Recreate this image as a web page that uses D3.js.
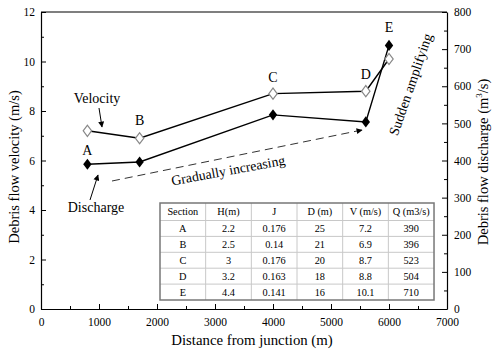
<!DOCTYPE html>
<html><head><meta charset="utf-8">
<script src="https://cdn.jsdelivr.net/npm/d3@7"></script>
<style>body{margin:0;background:#fff}svg{display:block}</style>
</head><body><svg id="c" width="500" height="356"></svg>
<script>
const sections = ["A","B","C","D","E"];
const distance = [800,1700,4000,5600,6000];
const velocity = [7.2,6.9,8.7,8.8,10.1];
const discharge = [390,396,523,504,710];
const depthH = ["2.2","2.5","3","3.2","4.4"];
const slopeJ = ["0.176","0.14","0.176","0.163","0.141"];
const widthD = ["25","21","20","18","16"];
const velText = ["7.2","6.9","8.7","8.8","10.1"];
const qText = ["390","396","523","504","710"];
const tableHeader = ["Section","H(m)","J","D (m)","V (m/s)","Q (m3/s)"];

const FONT = "Liberation Serif";
const svg = d3.select("#c").attr("font-family",FONT);
const L=41,R=447,T=12,B=309;
const x = d3.scaleLinear().domain([0,7000]).range([L,R]);
const yV = d3.scaleLinear().domain([0,12]).range([B,T]);
const yQ = d3.scaleLinear().domain([0,800]).range([B,T]);

svg.append("line").attr("x1",L).attr("x2",R).attr("y1",T).attr("y2",T).attr("stroke","#000").attr("stroke-width",1.2);

function axisDraw(g, axis){ g.call(axis); g.attr("font-family",FONT); g.select(".domain").attr("stroke","#000").attr("stroke-width",1.2); g.selectAll("text").attr("font-size",11.5).attr("fill","#000").attr("font-family",FONT); }
const gx = svg.append("g").attr("transform",`translate(0,${B})`);
gx.call(d3.axisBottom(x).tickValues(d3.range(500,7000,1000)).tickSize(-3).tickFormat(""));
gx.select(".domain").remove();
const gx2 = svg.append("g").attr("transform",`translate(0,${B})`);
axisDraw(gx2, d3.axisBottom(x).tickValues(d3.range(0,7001,1000)).tickSize(-5).tickSizeOuter(0).tickPadding(9).tickFormat(d3.format("d")));

const gl = svg.append("g").attr("transform",`translate(${L},0)`);
gl.call(d3.axisLeft(yV).tickValues(d3.range(1,12,2)).tickSize(-3).tickFormat("")); gl.select(".domain").remove();
const gl2 = svg.append("g").attr("transform",`translate(${L},0)`);
axisDraw(gl2, d3.axisLeft(yV).tickValues(d3.range(0,13,2)).tickSize(-5).tickSizeOuter(0).tickPadding(6));

const gr = svg.append("g").attr("transform",`translate(${R},0)`);
gr.call(d3.axisRight(yQ).tickValues(d3.range(50,800,100)).tickSize(-3).tickFormat("")); gr.select(".domain").remove();
const gr2 = svg.append("g").attr("transform",`translate(${R},0)`);
axisDraw(gr2, d3.axisRight(yQ).tickValues(d3.range(0,801,100)).tickSize(-5).tickSizeOuter(0).tickPadding(7));
svg.selectAll(".tick line").attr("stroke","#000");

const ann = svg.append("g").attr("font-family",FONT).attr("fill","#000");
ann.append("text").attr("x",252).attr("y",345).attr("text-anchor","middle").attr("font-size",14.8).text("Distance from junction (m)");
ann.append("text").attr("transform","translate(19,167) rotate(-90)").attr("text-anchor","middle").attr("font-size",14.5).text("Debris flow velocity (m/s)");
const rt = ann.append("text").attr("transform","translate(488,162) rotate(-90)").attr("text-anchor","middle").attr("font-size",14.5);
rt.append("tspan").text("Debris flow discharge (m");
rt.append("tspan").attr("font-size",9).attr("dy",-6).text("3");
rt.append("tspan").attr("dy",6).text("/s)");

const idx = d3.range(sections.length);
const lineV = d3.line().x(i=>x(distance[i])).y(i=>yV(velocity[i]));
const lineQ = d3.line().x(i=>x(distance[i])).y(i=>yQ(discharge[i]));
svg.append("path").attr("d",lineQ(idx)).attr("fill","none").attr("stroke","#000").attr("stroke-width",1.4);
svg.append("path").attr("d",lineV(idx)).attr("fill","none").attr("stroke","#000").attr("stroke-width",1.4);
const diamond = d3.symbol().type(d3.symbolDiamond).size(36);
svg.selectAll(".mq").data(idx).join("path").attr("d",diamond).attr("transform",i=>`translate(${x(distance[i])},${yQ(discharge[i])}) scale(1.3,1)`).attr("fill","#000");
svg.selectAll(".mv").data(idx).join("path").attr("d",diamond).attr("transform",i=>`translate(${x(distance[i])},${yV(velocity[i])}) scale(1.3,1)`).attr("fill","#fff").attr("stroke","#888").attr("stroke-width",1);

const letterOff = [[0,-9,"q"],[0,-13,"v"],[0,-12,"v"],[0,-12,"v"],[0,-13,"q"]];
sections.forEach((s,i)=>{
  const o=letterOff[i];
  const yy = o[2]==="q"? yQ(discharge[i]) : yV(velocity[i]);
  ann.append("text").attr("x",x(distance[i])+o[0]).attr("y",yy+o[1]).attr("text-anchor","middle").attr("font-size",14).text(s);
});

svg.append("defs").append("marker").attr("id","ah").attr("viewBox","0 0 10 10").attr("refX",9).attr("refY",5)
  .attr("markerWidth",7).attr("markerHeight",6).attr("orient","auto").attr("markerUnits","userSpaceOnUse")
  .append("path").attr("d","M0,0 L10,5 L0,10 Z").attr("fill","#000");

ann.append("text").attr("x",97).attr("y",103).attr("text-anchor","middle").attr("font-size",14).text("Velocity");
svg.append("line").attr("x1",99).attr("y1",108).attr("x2",102).attr("y2",127).attr("stroke","#000").attr("marker-end","url(#ah)");
ann.append("text").attr("x",96).attr("y",212).attr("text-anchor","middle").attr("font-size",14).text("Discharge");
svg.append("line").attr("x1",90).attr("y1",200).attr("x2",98).attr("y2",175).attr("stroke","#000").attr("marker-end","url(#ah)");

svg.append("line").attr("x1",112).attr("y1",181).attr("x2",362).attr("y2",130).attr("stroke","#333").attr("stroke-dasharray","8,5").attr("marker-end","url(#ah)");
ann.append("text").attr("transform","translate(229,175) rotate(-10.5)").attr("text-anchor","middle").attr("font-size",13.8).text("Gradually increasing");
ann.append("text").attr("transform","translate(415,86) rotate(-71)").attr("text-anchor","middle").attr("font-size",14).text("Sudden amplifying");

const tx=160, ty=203, colW=45.67, hH=17.5, rH=15.9;
const tg = svg.append("g").attr("font-family",FONT);
const rows = sections.map((s,i)=>[s,depthH[i],slopeJ[i],widthD[i],velText[i],qText[i]]);
const tw = colW*6, th = hH+rH*rows.length;
tg.append("rect").attr("x",tx).attr("y",ty).attr("width",tw).attr("height",th).attr("fill","#fff");
for(let c=1;c<6;c++) tg.append("line").attr("x1",tx+c*colW).attr("x2",tx+c*colW).attr("y1",ty).attr("y2",ty+th).attr("stroke","#c8c8c8").attr("stroke-width",1);
for(let r=0;r<rows.length;r++) tg.append("line").attr("x1",tx).attr("x2",tx+tw).attr("y1",ty+hH+r*rH).attr("y2",ty+hH+r*rH).attr("stroke","#c8c8c8").attr("stroke-width",1);
tg.append("rect").attr("x",tx).attr("y",ty).attr("width",tw).attr("height",th).attr("fill","none").attr("stroke","#777").attr("stroke-width",1.5);
tableHeader.forEach((h,c)=>tg.append("text").attr("x",tx+c*colW+colW/2).attr("y",ty+hH/2+3.5).attr("text-anchor","middle").attr("font-size",10.3).text(h));
rows.forEach((row,r)=>row.forEach((v,c)=>tg.append("text").attr("x",tx+c*colW+colW/2).attr("y",ty+hH+r*rH+rH/2+3.5).attr("text-anchor","middle").attr("font-size",10.3).text(v)));
</script></body></html>
